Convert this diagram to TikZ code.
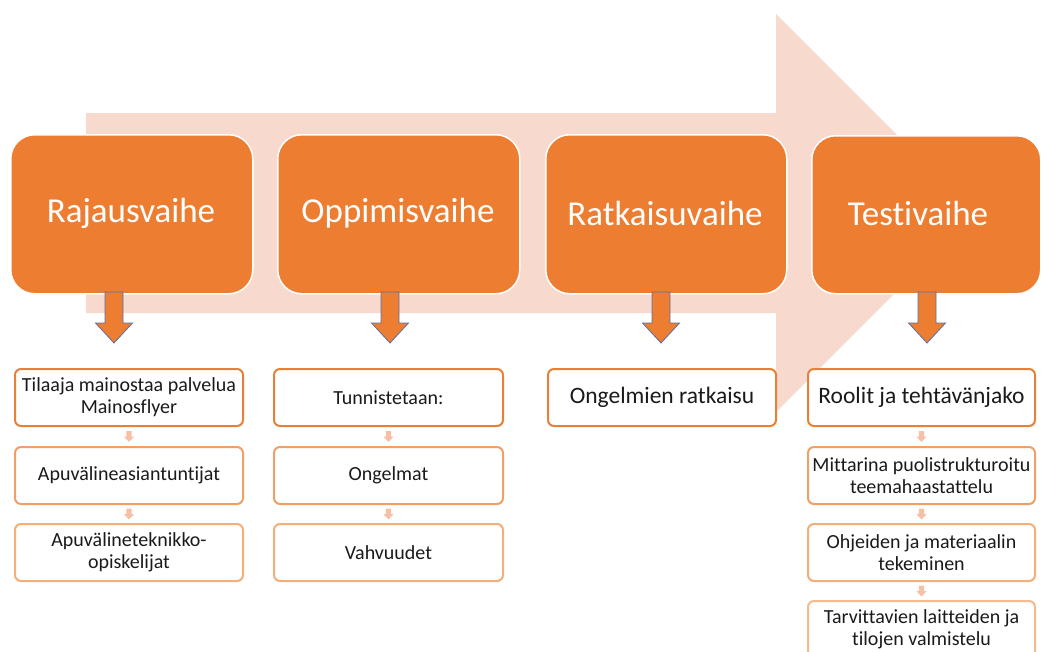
\documentclass[tikz,border=0pt]{standalone}
\usepackage{fontspec}
\setmainfont{Carlito}[Ligatures=NoCommon]
\usetikzlibrary{calc}
\definecolor{bigarrow}{HTML}{F8D9CE}
\definecolor{phaseor}{HTML}{ED7D31}
\definecolor{arrline}{HTML}{5571A8}
\definecolor{bordA}{HTML}{E98038}
\definecolor{bordB}{HTML}{F0A067}
\definecolor{bordC}{HTML}{F3AE7A}
\definecolor{bordD}{HTML}{F5BA8D}
\definecolor{smallarr}{HTML}{F6C0A6}
\definecolor{txt}{HTML}{1A1A1A}
\tikzset{
  phasebox/.style={fill=phaseor, draw=white, line width=1.5pt, rounded corners=24pt,
    anchor=north west, inner sep=0pt, text=white,
    font=\fontsize{35}{40}\selectfont},
  phasetext/.style={text=white, font=\fontsize{35}{40}\selectfont},
  itembox/.style={fill=white, line width=2pt, rounded corners=6pt, anchor=north west,
    minimum width=228pt, minimum height=57pt, inner sep=2pt, align=center, text=txt,
    font=\fontsize{20}{22}\selectfont},
  bigitem/.style={itembox, font=\fontsize{23.5}{26}\selectfont},
  bigdown/.pic={\draw[fill=phaseor, draw=arrline, line width=0.8pt]
    (-9,0) -- (9,0) -- (9,31) -- (18.5,31) -- (0,51) -- (-18.5,31) -- (-9,31) -- cycle;},
  smalldown/.pic={\fill[smallarr]
    (-2.6,-5.5) -- (2.6,-5.5) -- (2.6,0) -- (5.2,0) -- (0,5.5) -- (-5.2,0) -- (-2.6,0) -- cycle;}
}
\begin{document}
\begin{tikzpicture}[x=1pt,y=-1pt]
\useasboundingbox (0,0) rectangle (1041,651);
\clip (0,0) rectangle (1041,651);
% big background arrow
\fill[bigarrow] (86,113) -- (776,113) -- (776,14) -- (975,213) -- (776,412) -- (776,313) -- (86,313) -- cycle;
% phase boxes
\node[phasebox, minimum width=242pt, minimum height=159pt] (p1) at (10,134) {};
\node[phasebox, minimum width=242pt, minimum height=159pt] (p2) at (277,134) {};
\node[phasebox, minimum width=241pt, minimum height=159pt] (p3) at (545,134) {};
\node[phasebox, minimum width=229pt, minimum height=158pt] (p4) at (811,135) {};
\node[phasetext] (t1) at (131,213) {Rajausvaihe};
\node[phasetext] (t2) at (398,213) {Oppimisvaihe};
\node[phasetext] (t3) at (665,213) {Ratkaisuvaihe};
\node[phasetext] (t4) at (918,213) {Testivaihe};
% down arrows
\pic at (114,292) {bigdown};
\pic at (390,292) {bigdown};
\pic at (661,292) {bigdown};
\pic at (927,292) {bigdown};
% column 1
\node[itembox, draw=bordA] (a1) at (14,368) {Tilaaja mainostaa palvelua\\Mainosflyer};
\node[itembox, draw=bordB] (a2) at (14,446) {Apuvälineasiantuntijat};
\node[itembox, draw=bordC] (a3) at (14,523) {Apuvälineteknikko-\\opiskelijat};
% column 2
\node[itembox, draw=bordA, minimum width=229pt] (b1) at (273,368) {Tunnistetaan:};
\node[itembox, draw=bordB, minimum width=229pt] (b2) at (273,446) {Ongelmat};
\node[itembox, draw=bordC, minimum width=229pt] (b3) at (273,523) {Vahvuudet};
% column 3
\node[bigitem, draw=bordA] (c1) at (547,368) {Ongelmien ratkaisu};
% column 4
\node[bigitem, draw=bordA, minimum width=227pt] (d1) at (807,368) {Roolit ja tehtävänjako};
\node[itembox, draw=bordB, minimum width=227pt] (d2) at (807,446) {Mittarina puolistrukturoitu\\teemahaastattelu};
\node[itembox, draw=bordC, minimum width=227pt] (d3) at (807,523) {Ohjeiden ja materiaalin\\tekeminen};
\node[itembox, draw=bordD, minimum width=227pt] (d4) at (807,600) {Tarvittavien laitteiden ja\\tilojen valmistelu};
% small arrows
\pic at ($(a1.south)!0.5!(a2.north)$) {smalldown};
\pic at ($(a2.south)!0.5!(a3.north)$) {smalldown};
\pic at ($(b1.south)!0.5!(b2.north)$) {smalldown};
\pic at ($(b2.south)!0.5!(b3.north)$) {smalldown};
\pic at ($(d1.south)!0.5!(d2.north)$) {smalldown};
\pic at ($(d2.south)!0.5!(d3.north)$) {smalldown};
\pic at ($(d3.south)!0.5!(d4.north)$) {smalldown};
\end{tikzpicture}
\end{document}
